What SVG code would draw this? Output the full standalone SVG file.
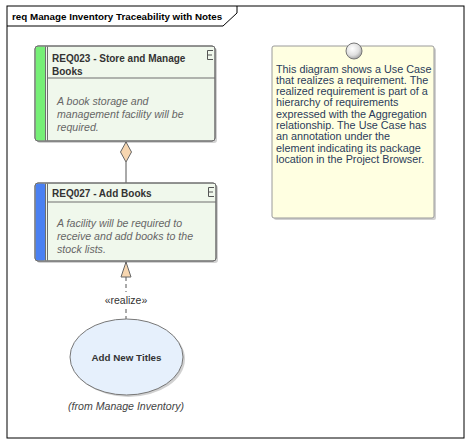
<svg xmlns="http://www.w3.org/2000/svg" width="470" height="444" viewBox="0 0 470 444">
<defs>
<style>
.frame{fill:#fff;stroke:#000;stroke-width:1}
.shadow{fill:#000;opacity:0.18}
.req{fill:#F0F8EC;stroke:#6E6E6E;stroke-width:1}
.sep{stroke:#6E6E6E;stroke-width:1;fill:none}
.icon{stroke:#555;stroke-width:1;fill:none}
.title{font-family:"Liberation Sans",Arial,sans-serif;font-weight:bold;font-size:10px;fill:#333}
.body{font-family:"Liberation Sans",Arial,sans-serif;font-style:italic;font-size:10.6px;fill:#666}
.note{font-family:"Liberation Sans",Arial,sans-serif;font-size:10.8px;fill:#2B3C5A}
.lbl{font-family:"Liberation Sans",Arial,sans-serif;font-size:10.5px;fill:#333}
.conn{stroke:#555;stroke-width:1;fill:none}
.head{fill:#F7D6B0;stroke:#666;stroke-width:1}
</style>
<radialGradient id="pin" cx="0.4" cy="0.35" r="0.7">
<stop offset="0" stop-color="#ffffff"/>
<stop offset="0.6" stop-color="#e0e0e0"/>
<stop offset="1" stop-color="#9a9a9a"/>
</radialGradient>
</defs>

<g id="frame">
<rect class="frame" x="7" y="6" width="457" height="432"/>
<path d="M7,26 H223 L237,13 V6" fill="none" stroke="#000" stroke-width="1"/>
<text x="12" y="19.5" class="title" style="fill:#000;font-size:9.8px">req Manage Inventory Traceability with Notes</text>
</g>

<g id="connectors">
<line class="conn" x1="126" y1="162" x2="126" y2="183"/>
<polygon class="head" points="126,142 131.5,152 126,162 120.5,152"/>
<line class="conn" x1="126" y1="277" x2="126" y2="292" stroke-dasharray="4,3"/>
<line class="conn" x1="126" y1="309" x2="126" y2="319" stroke-dasharray="4,3"/>
<polygon class="head" points="126,262 131,277 121,277"/>
<text x="126" y="304" class="lbl" text-anchor="middle">«realize»</text>
</g>

<g id="REQ023">
<rect class="shadow" x="37" y="48" width="180" height="95" rx="3"/>
<rect class="req" x="35" y="46" width="180" height="95" rx="3"/>
<rect x="35.5" y="46.5" width="10" height="94" rx="2.5" fill="#76EF76"/>
<line class="sep" x1="45.5" y1="46.5" x2="45.5" y2="140.5"/>
<line class="sep" x1="47.5" y1="46.5" x2="47.5" y2="140.5"/>
<line class="sep" x1="47.5" y1="78" x2="215" y2="78"/>
<rect x="35" y="46" width="180" height="95" rx="3" fill="none" stroke="#6E6E6E"/>
<path class="icon" d="M213,50.5 H207.5 V59.5 H213 M207.5,55 H212"/>
<text x="52" y="62" class="title">REQ023 - Store and Manage</text>
<text x="52" y="75" class="title">Books</text>
<text x="57" y="105" class="body">A book storage and</text>
<text x="57" y="118" class="body">management facility will be</text>
<text x="57" y="131" class="body">required.</text>
</g>

<g id="REQ027">
<rect class="shadow" x="37" y="185" width="181" height="78" rx="3"/>
<rect class="req" x="35" y="183" width="181" height="78" rx="3"/>
<rect x="35.5" y="183.5" width="10" height="77" rx="2.5" fill="#4A80F2"/>
<line class="sep" x1="45.5" y1="183.5" x2="45.5" y2="260.5"/>
<line class="sep" x1="47.5" y1="183.5" x2="47.5" y2="260.5"/>
<line class="sep" x1="47.5" y1="202" x2="216" y2="202"/>
<rect x="35" y="183" width="181" height="78" rx="3" fill="none" stroke="#6E6E6E"/>
<path class="icon" d="M214,187.5 H208.5 V196.5 H214 M208.5,192 H213"/>
<text x="52" y="197" class="title">REQ027 - Add Books</text>
<text x="57" y="227" class="body">A facility will be required to</text>
<text x="57" y="240" class="body">receive and add books to the</text>
<text x="57" y="253" class="body">stock lists.</text>
</g>

<g id="AddNewTitles">
<ellipse cx="128.5" cy="359" rx="56.5" ry="38" fill="#000" opacity="0.18"/>
<ellipse cx="126.5" cy="357" rx="56.5" ry="38" fill="#E6F0FC" stroke="#777" stroke-width="1"/>
<text x="126.5" y="361" class="title" text-anchor="middle" style="font-size:9.8px">Add New Titles</text>
<text x="126" y="410" class="body" text-anchor="middle" style="fill:#444;font-size:10.6px">(from Manage Inventory)</text>
</g>

<g id="note">
<rect class="shadow" x="274" y="48" width="162" height="172" rx="2"/>
<rect x="272" y="46" width="162" height="172" rx="2" fill="#FFFFE1" stroke="#9A9A9A" stroke-width="1"/>
<circle cx="354" cy="51" r="8" fill="url(#pin)" stroke="#777" stroke-width="1"/>
<text class="note">
<tspan x="276" y="72.5">This diagram shows a Use Case</tspan>
<tspan x="276" y="83.8">that realizes a requirement. The</tspan>
<tspan x="276" y="95.1">realized requirement is part of a</tspan>
<tspan x="276" y="106.4">hierarchy of requirements</tspan>
<tspan x="276" y="117.7">expressed with the Aggregation</tspan>
<tspan x="276" y="129">relationship. The Use Case has</tspan>
<tspan x="276" y="140.3">an annotation under the</tspan>
<tspan x="276" y="151.6">element indicating its package</tspan>
<tspan x="276" y="162.9">location in the Project Browser.</tspan>
</text>
</g>
</svg>
